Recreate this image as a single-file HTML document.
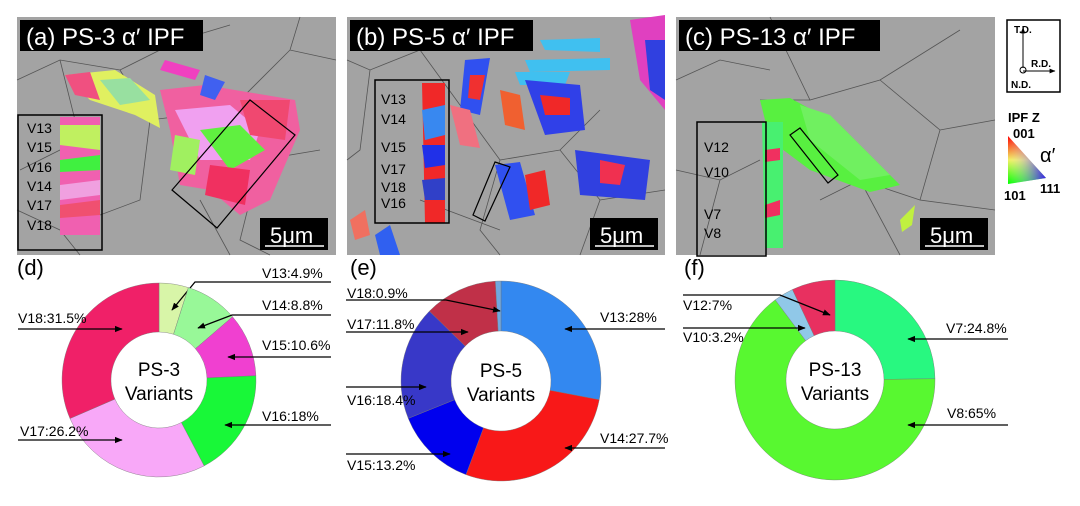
<!DOCTYPE html>
<html><head><meta charset="utf-8"><style>
html,body{margin:0;padding:0;background:#fff;}
svg{display:block;font-family:"Liberation Sans",sans-serif;}
</style></head><body>
<svg id="fig" width="1080" height="506" viewBox="0 0 1080 506" xmlns="http://www.w3.org/2000/svg">
<defs>
<marker id="ah" viewBox="0 0 10 10" refX="9" refY="5" markerWidth="6" markerHeight="6" orient="auto"><path d="M0,1 L10,5 L0,9 z" fill="#000"/></marker>
</defs>
<!-- Panel a -->
<g>
<rect x="17" y="17" width="319" height="238" fill="#a3a3a3"/>
<g stroke="#333" stroke-width="0.8" fill="none" opacity="0.7">
<path d="M17,80 L60,60 L120,70 L180,40 L230,25 M60,60 L80,140 L20,170 M120,70 L150,120 L230,110 L290,50 L336,60 M150,120 L140,200 L60,230 M230,110 L260,160 L320,150 M260,160 L240,240 L270,255 M200,200 L230,255 M290,50 L300,17 M17,210 L60,230 L80,255"/>
</g>
<polygon points="65,75 115,70 155,95 160,128 135,115 90,100" fill="#e0f060"/>
<polygon points="65,75 90,72 100,100 75,95" fill="#f05080"/>
<polygon points="100,80 130,78 150,100 120,105" fill="#98e0a0"/>
<polygon points="160,90 205,85 295,100 300,130 270,200 240,215 210,190 180,185 170,130" fill="#f060a0"/>
<polygon points="175,110 230,105 260,130 250,160 200,160" fill="#f0a0f0"/>
<polygon points="200,130 240,125 265,150 230,170" fill="#60f040"/>
<polygon points="240,100 290,100 285,140 250,135" fill="#f04870"/>
<polygon points="175,135 200,140 195,175 170,170" fill="#a0f060"/>
<polygon points="205,75 225,82 215,100 200,95" fill="#4060f0"/>
<polygon points="165,60 200,70 195,80 160,70" fill="#f040c0"/>
<polygon points="210,165 250,170 245,205 205,195" fill="#f03060"/>
<polygon points="60,117 100,117 100,235 60,235" fill="#f060b0"/>
<polygon points="60,125 100,125 100,150 60,145" fill="#c0f060"/>
<polygon points="60,160 100,155 100,170 60,172" fill="#40f040"/>
<polygon points="60,185 100,180 100,195 60,200" fill="#f0a0e0"/>
<polygon points="60,205 100,200 100,215 60,218" fill="#f05070"/>
<rect x="18" y="115" width="84" height="135" fill="none" stroke="#000" stroke-width="1.5"/>
<polygon points="250,100 295,135 217,228 172,190" fill="none" stroke="#000" stroke-width="1.2"/>
<rect x="20" y="20" width="183" height="31" fill="#000"/>
<text x="26" y="45" font-size="24" fill="#fff">(a) PS-3 α′ IPF</text>
<g font-size="14" fill="#000"><text x="27" y="133">V13</text><text x="27" y="152">V15</text><text x="27" y="172">V16</text><text x="27" y="191">V14</text><text x="27" y="210">V17</text><text x="27" y="230">V18</text></g>
<rect x="260" y="218" width="68" height="32" fill="#000"/>
<text x="270" y="243" font-size="22" fill="#fff">5μm</text>
<line x1="265" y1="246" x2="324" y2="246" stroke="#fff" stroke-width="1.5"/>
</g>
<!-- Panel b -->
<g>
<rect x="347" y="17" width="318" height="238" fill="#a3a3a3"/>
<g stroke="#333" stroke-width="0.8" fill="none" opacity="0.7">
<path d="M347,60 L370,70 L420,50 M370,70 L360,150 L347,160 M420,50 L500,160 L480,230 L500,255 M500,160 L560,150 L600,200 L665,190 M560,150 L600,110 M600,200 L580,255 M420,200 L500,230"/>
</g>
<polygon points="540,40 600,38 600,52 545,50" fill="#40c0f0"/>
<polygon points="525,60 610,58 610,70 530,72" fill="#40c0f0"/>
<polygon points="515,72 570,72 565,85 520,85" fill="#40c0f0"/>
<polygon points="465,60 490,58 480,115 460,110" fill="#3050f0"/>
<polygon points="470,75 485,75 480,100 468,98" fill="#f03030"/>
<polygon points="525,80 580,85 585,130 545,135" fill="#3040e8"/>
<polygon points="540,95 570,98 570,115 545,115" fill="#f02828"/>
<polygon points="500,90 520,95 525,130 505,125" fill="#f06030"/>
<polygon points="450,105 470,110 480,148 460,145" fill="#f07080"/>
<polygon points="495,165 520,162 535,215 510,220" fill="#3050f0"/>
<polygon points="525,175 545,170 550,205 530,210" fill="#f02828"/>
<polygon points="575,150 650,160 645,200 580,195" fill="#3040e0"/>
<polygon points="600,160 625,165 620,185 600,183" fill="#f03050"/>
<polygon points="630,20 665,15 665,110 640,80" fill="#e040c0"/>
<polygon points="645,40 665,40 665,100 650,90" fill="#3040e0"/>
<polygon points="350,220 365,210 370,235 355,240" fill="#f07060"/>
<polygon points="375,235 390,225 400,255 380,255" fill="#3060f0"/>
<polygon points="422,83 445,83 445,223 425,223" fill="#f02828"/>
<polygon points="422,110 445,105 445,135 425,140" fill="#3888f0"/>
<polygon points="422,145 445,145 445,165 425,168" fill="#2030e8"/>
<polygon points="422,180 445,178 445,200 425,200" fill="#3040c8"/>
<rect x="375" y="80" width="74" height="143" fill="none" stroke="#000" stroke-width="1.5"/>
<polygon points="495,162 510,167 485,221 473,215" fill="none" stroke="#000" stroke-width="1.2"/>
<rect x="350" y="20" width="183" height="31" fill="#000"/>
<text x="356" y="45" font-size="24" fill="#fff">(b) PS-5 α′ IPF</text>
<g font-size="14" fill="#000"><text x="381" y="104">V13</text><text x="381" y="124">V14</text><text x="381" y="152">V15</text><text x="381" y="174">V17</text><text x="381" y="192">V18</text><text x="381" y="208">V16</text></g>
<rect x="590" y="218" width="68" height="32" fill="#000"/>
<text x="600" y="243" font-size="22" fill="#fff">5μm</text>
<line x1="595" y1="246" x2="654" y2="246" stroke="#fff" stroke-width="1.5"/>
</g>
<!-- Panel c -->
<g>
<rect x="676" y="17" width="319" height="238" fill="#a3a3a3"/>
<g stroke="#333" stroke-width="0.8" fill="none" opacity="0.7">
<path d="M676,80 L720,60 L770,70 M770,17 L810,100 L880,80 L960,30 M880,80 L940,130 L995,120 M940,130 L920,200 L995,210 M810,100 L760,100 M676,170 L720,180 L760,160 M720,180 L700,255 M820,200 L860,180 L920,200 M860,180 L900,255"/>
</g>
<polygon points="760,100 790,98 840,125 900,185 870,192 810,170 770,140" fill="#58f040"/>
<polygon points="800,105 830,115 890,175 860,180 810,140" fill="#70f060"/>
<polygon points="762,122 783,122 783,248 765,248" fill="#48f070"/>
<polygon points="765,150 780,148 780,160 765,162" fill="#f03060"/>
<polygon points="765,205 780,200 780,215 765,218" fill="#f03060"/>
<polygon points="900,220 915,205 912,225 902,232" fill="#c0f040"/>
<rect x="697" y="122" width="69" height="134" fill="none" stroke="#000" stroke-width="1.5"/>
<polygon points="790,135 800,128 838,175 828,183" fill="none" stroke="#000" stroke-width="1.2"/>
<rect x="679" y="20" width="201" height="31" fill="#000"/>
<text x="685" y="45" font-size="24" fill="#fff">(c) PS-13 α′ IPF</text>
<g font-size="14" fill="#000"><text x="704" y="152">V12</text><text x="704" y="177">V10</text><text x="704" y="219">V7</text><text x="704" y="238">V8</text></g>
<rect x="920" y="218" width="68" height="32" fill="#000"/>
<text x="930" y="243" font-size="22" fill="#fff">5μm</text>
<line x1="925" y1="246" x2="984" y2="246" stroke="#fff" stroke-width="1.5"/>
</g>
<!-- legend -->
<g>
<rect x="1007" y="20" width="53" height="72" fill="#fff" stroke="#000" stroke-width="1.5"/>
<text x="1014" y="33" font-size="10" font-weight="bold">T.D.</text>
<text x="1031" y="67" font-size="10" font-weight="bold">R.D.</text>
<text x="1011" y="88" font-size="10" font-weight="bold">N.D.</text>
<line x1="1023" y1="68" x2="1023" y2="28" stroke="#000" marker-end="url(#ah)"/>
<line x1="1023" y1="71" x2="1055" y2="71" stroke="#000" marker-end="url(#ah)"/>
<circle cx="1023" cy="70" r="3" fill="none" stroke="#000"/>
</g>
<g>
<defs><linearGradient id="g1" x1="0" y1="0" x2="0" y2="1"><stop offset="0" stop-color="#f00"/><stop offset="0.5" stop-color="#f0f060"/><stop offset="1" stop-color="#0f0"/></linearGradient>
<linearGradient id="g2" x1="0" y1="0" x2="1" y2="0"><stop offset="0" stop-color="#fff" stop-opacity="0"/><stop offset="1" stop-color="#30f" stop-opacity="0.9"/></linearGradient></defs>
<text x="1008" y="122" font-size="13" font-weight="bold">IPF Z</text>
<text x="1013" y="138" font-size="13" font-weight="bold">001</text>
<polygon points="1008,136 1008,184 1046,178" fill="url(#g1)"/>
<polygon points="1008,136 1008,184 1046,178" fill="url(#g2)"/>
<text x="1040" y="162" font-size="20">α′</text>
<text x="1004" y="200" font-size="13" font-weight="bold">101</text>
<text x="1040" y="193" font-size="13" font-weight="bold">111</text>
</g>
<g font-size="22">
<text x="17" y="275">(d)</text><text x="350" y="275">(e)</text><text x="684" y="275">(f)</text>
</g>
<g id="donuts"></g>
</svg>
<script>
const labelsD=["V13","V14","V15","V16","V17","V18"];
const valuesD=[4.9,8.8,10.6,18,26.2,31.5];
const colorsD=["#d8f5a8","#98f898","#f040d0","#18f838","#f8a8f8","#f02068"];
const labelsE=["V13","V14","V15","V16","V17","V18"];
const valuesE=[28,27.7,13.2,18.4,11.8,0.9];
const colorsE=["#3388f0","#f81818","#0000ee","#3838c8","#c03048","#70a8e0"];
const labelsF=["V7","V8","V10","V12"];
const valuesF=[24.8,65,3.2,7];
const colorsF=["#28f880","#58f830","#90c8e8","#e83060"];
const NS="http://www.w3.org/2000/svg";
const root=document.getElementById('donuts');
function mk(t,a){const e=document.createElementNS(NS,t);for(const k in a)e.setAttribute(k,a[k]);return e;}
function donut(id,cx,cy,R,r,labels,values,colors,title,leaders){
  const g=mk('g',{});
  
  
  root.appendChild(g);
  const tot=values.reduce((a,b)=>a+b,0);
  let a0=0;
  values.forEach((v,i)=>{
    const a1=a0+v/tot*2*Math.PI;
    const p=(a,rr)=>[cx+rr*Math.sin(a),cy-rr*Math.cos(a)];
    const [x0,y0]=p(a0,R),[x1,y1]=p(a1,R),[x2,y2]=p(a1,r),[x3,y3]=p(a0,r);
    const lg=(a1-a0)>Math.PI?1:0;
    const s=mk('path',{d:`M${x0},${y0} A${R},${R} 0 ${lg} 1 ${x1},${y1} L${x2},${y2} A${r},${r} 0 ${lg} 0 ${x3},${y3} Z`,fill:colors[i],stroke:'#777','stroke-width':0.4});
    
    
    g.appendChild(s);
    const L=leaders[i];
    const t=mk('text',{x:L[0],y:L[1],'font-size':14});
    t.textContent=labels[i]+':'+values[i]+'%';
    
    
    g.appendChild(t);
    const ln=mk('polyline',{points:L[2],fill:'none',stroke:'#000','stroke-width':1.3,'marker-end':'url(#ah)'});
    
    
    g.appendChild(ln);
    a0=a1;
  });
  const t1=mk('text',{x:cx,y:cy-4,'font-size':19,'text-anchor':'middle'});t1.textContent=title;
  
  
  g.appendChild(t1);
  const t2=mk('text',{x:cx,y:cy+20,'font-size':19,'text-anchor':'middle'});t2.textContent='Variants';
  
  
  g.appendChild(t2);
}
donut('donut-ps3',159,380,97,48,labelsD,valuesD,colorsD,'PS-3',[
 [262,278,"331,282 195,282 172,310"],[262,310,"331,315 232,315 198,328"],[262,350,"331,357 228,357"],
 [262,421,"331,425 225,425"],[20,436,"18,440 122,440"],[18,323,"18,329 122,329"]]);
donut('donut-ps5',501,381,100,50,labelsE,valuesE,colorsE,'PS-5',[
 [600,322,"665,329 565,329"],[600,443,"665,448 565,448"],[347,470,"346,454 450,454"],
 [347,405,"346,387 426,387"],[347,329,"346,332 468,332"],[347,298,"346,300 446,300 500,311"]]);
donut('donut-ps13',835,380,100,49,labelsF,valuesF,colorsF,'PS-13',[
 [946,333,"1008,339 908,339"],[947,418,"1008,425 908,425"],[683,342,"683,328 805,328"],[683,310,"683,295 780,295 830,315"]]);
</script>
</body></html>
